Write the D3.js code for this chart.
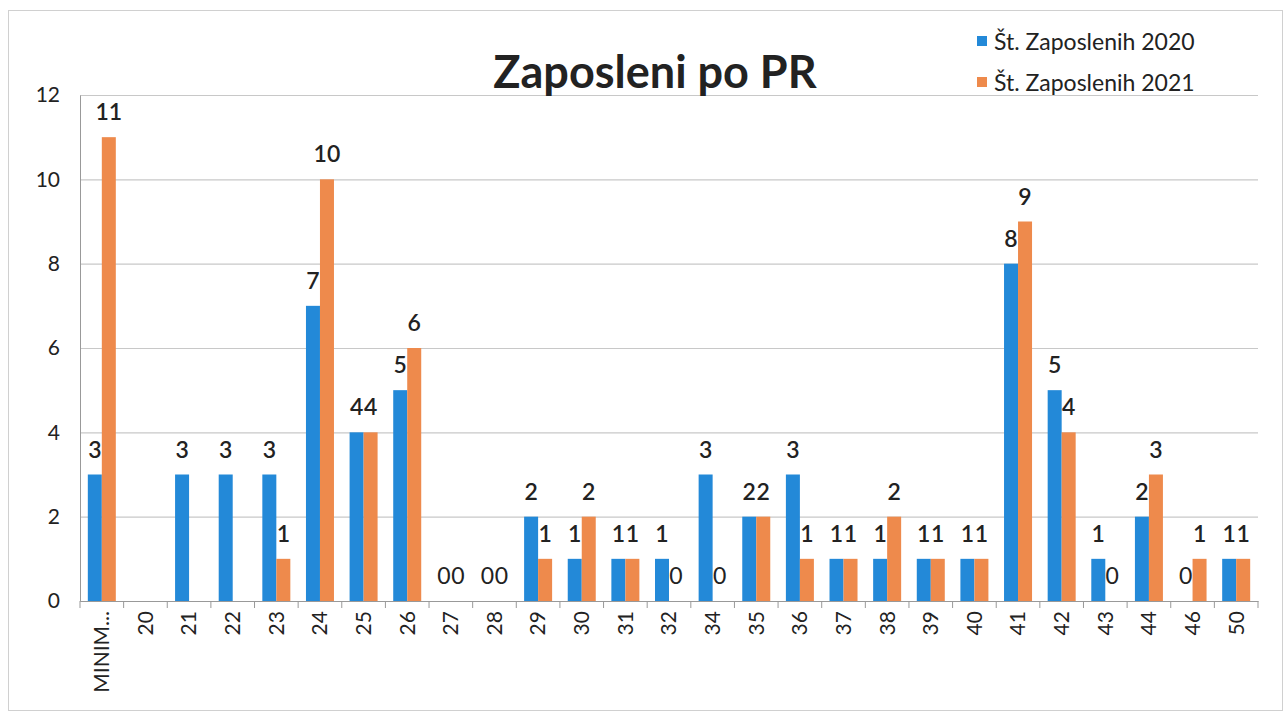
<!DOCTYPE html>
<html><head><meta charset="utf-8">
<script src="https://cdn.jsdelivr.net/npm/d3@7/dist/d3.min.js"></script>
<style>body{margin:0;background:#fff}svg{display:block}</style>
</head><body>
<svg id="c" width="1287" height="713"></svg>
<script>
const categories = ["MINIM...","20","21","22","23","24","25","26","27","28","29","30","31","32","34","35","36","37","38","39","40","41","42","43","44","46","50"];
const values2020 = [3,null,3,3,3,7,4,5,0,0,2,1,1,1,3,2,3,1,1,1,1,8,5,1,2,0,1];
const values2021 = [11,null,null,null,1,10,4,6,0,0,1,2,1,0,0,2,1,1,2,1,1,9,4,0,3,1,1];
const seriesNames = ["Št. Zaposlenih 2020","Št. Zaposlenih 2021"];
const colors = ["#2389d8","#ee8a4c"];
const yTicks = [0,2,4,6,8,10,12];
const title = "Zaposleni po PR";

const svg = d3.select("#c");
const font = "Lato, 'Open Sans', sans-serif";
const m = {l:80, r:1258, t:95, b:601};

svg.append("rect").attr("x",8.5).attr("y",10.5).attr("width",1274).attr("height",700)
  .attr("fill","none").attr("stroke","#d0d0d0");

const x = d3.scaleBand().domain(categories).range([m.l,m.r]).paddingInner(0).paddingOuter(0);
const y = d3.scaleLinear().domain([0,12]).range([m.b,m.t]);
const bw = 14;

// grid
svg.append("g").selectAll("line").data(yTicks).join("line")
  .attr("x1",m.l).attr("x2",m.r).attr("y1",d=>y(d)+0.5).attr("y2",d=>y(d)+0.5)
  .attr("stroke","#c8c8c8").attr("stroke-width",1.2);

// y axis
const ya = d3.axisLeft(y).tickValues(yTicks).tickSize(0).tickPadding(20);
const yg = svg.append("g").attr("transform",`translate(${m.l},0)`).call(ya);
yg.select(".domain").attr("stroke","#999");
yg.selectAll("text").attr("font-family",font).attr("font-size",21).attr("fill","#222");

// x axis
const xa = d3.axisBottom(x).tickSize(0).tickPadding(0);
const xg = svg.append("g").attr("transform",`translate(0,${m.b})`).call(xa);
xg.select(".domain").attr("stroke","#999");
xg.selectAll("text").attr("font-family",font).attr("font-size",21).attr("fill","#222")
  .attr("transform","rotate(-90)").attr("text-anchor","end").attr("dx","-10px").attr("dy","0.35em").attr("y",0);
// boundary ticks
const bounds = categories.map(c=>x(c)).concat([m.r]);
svg.append("g").selectAll("line").data(bounds).join("line")
  .attr("x1",d=>d).attr("x2",d=>d).attr("y1",m.b).attr("y2",m.b+7).attr("stroke","#999");

// bars
const series = [values2020, values2021];
series.forEach((vals,si)=>{
  const g = svg.append("g");
  const data = categories.map((c,i)=>({c, v:vals[i]})).filter(d=>d.v!==null);
  g.selectAll("rect").data(data).join("rect")
    .attr("x",d=>x(d.c)+x.bandwidth()/2 - bw + si*bw)
    .attr("y",d=>y(d.v)).attr("width",bw).attr("height",d=>m.b-y(d.v))
    .attr("fill",colors[si]);
  g.selectAll("text").data(data).join("text")
    .attr("x",d=>x(d.c)+x.bandwidth()/2 - bw/2 + si*bw)
    .attr("y",d=> y(d.v)-17)
    .attr("text-anchor","middle").attr("font-family",font).attr("font-size",23)
    .attr("font-weight",d=> d.v===0 ? 400 : 600).attr("fill","#222").text(d=>d.v);
});

// title
svg.append("text").attr("x",655).attr("y",88).attr("text-anchor","middle")
  .attr("font-family",font).attr("font-weight",700).attr("font-size",45).attr("fill","#222").text(title);

// legend
const lg = svg.append("g");
seriesNames.forEach((n,i)=>{
  const yy = 42 + i*41;
  lg.append("rect").attr("x",977).attr("y",yy-6).attr("width",10).attr("height",10).attr("fill",colors[i]);
  lg.append("text").attr("x",994).attr("y",yy+8).attr("font-family",font).attr("font-size",23)
    .attr("fill","#222").text(n);
});
</script>
</body></html>
